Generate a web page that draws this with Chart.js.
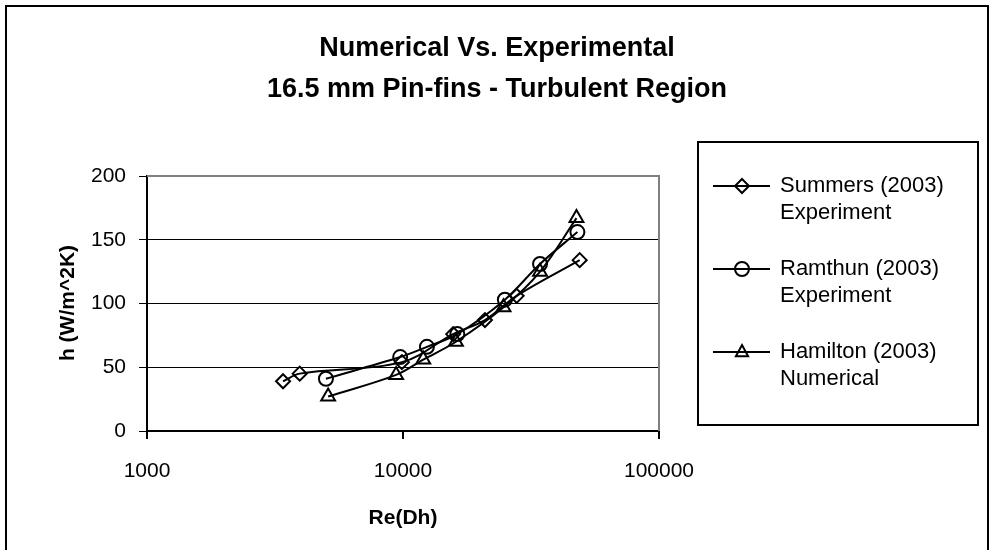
<!DOCTYPE html>
<html>
<head>
<meta charset="utf-8">
<script src="https://cdn.jsdelivr.net/npm/chart.js@4.4.0/dist/chart.umd.min.js"></script>
<style>
  html, body { margin:0; padding:0; background:#fff; overflow:hidden; }
  canvas { display:block; }
</style>
</head>
<body>
<canvas id="chart" width="994" height="550"></canvas>
<script>
// data
const summersRe = [3400, 3950, 9900, 15700, 20900, 27800, 49000];
const summersH  = [39, 45, 54, 76, 87, 106, 134];
const ramthunRe = [5000, 9750, 12400, 16300, 25000, 34300, 48000];
const ramthunH  = [41, 58, 66, 76, 103, 131, 156];
const hamiltonRe = [5100, 9400, 12000, 16100, 24700, 34300, 47600];
const hamiltonH  = [27, 44, 56, 70, 97, 125, 167];
const seriesNames = ['Summers (2003)', 'Ramthun (2003)', 'Hamilton (2003)'];
const seriesNotes = ['Experiment', 'Experiment', 'Numerical'];
const xTicks = [1000, 10000, 100000];
const yTicks = [0, 50, 100, 150, 200];

const FONT = "'Liberation Sans', Arial, sans-serif";
const styles = ['rectRot', 'circle', 'triangle'];
const radii = [7, 7, 8];

function pts(xs, ys){ return xs.map((x,i)=>({x:x, y:ys[i]})); }

function drawMarker(ctx, style, x, y, r){
  ctx.beginPath();
  if (style==='circle') ctx.arc(x, y, r, 0, Math.PI*2);
  else if (style==='rectRot'){ ctx.moveTo(x, y-r); ctx.lineTo(x+r, y); ctx.lineTo(x, y+r); ctx.lineTo(x-r, y); ctx.closePath(); }
  else { const s=r*0.87; ctx.moveTo(x, y-r); ctx.lineTo(x+s, y+r*0.6); ctx.lineTo(x-s, y+r*0.6); ctx.closePath(); }
  ctx.stroke();
}

const decor = {
  id:'decor',
  beforeDraw(chart){
    const ctx = chart.ctx;
    ctx.save();
    ctx.fillStyle='#fff';
    ctx.fillRect(0,0,chart.width,chart.height);
    ctx.restore();
  },
  afterDraw(chart){
    const ctx = chart.ctx, a = chart.chartArea;
    ctx.save();
    // outer frame
    ctx.strokeStyle='#000'; ctx.lineWidth=2;
    ctx.strokeRect(6, 6, 982, 560);
    // plot area top/right border
    ctx.strokeStyle='#808080'; ctx.lineWidth=2;
    ctx.beginPath(); ctx.moveTo(a.left, a.top); ctx.lineTo(a.right, a.top); ctx.lineTo(a.right, a.bottom); ctx.stroke();
    // title
    ctx.fillStyle='#000'; ctx.textAlign='center'; ctx.textBaseline='middle';
    ctx.font = 'bold 27px ' + FONT;
    ctx.fillText('Numerical Vs. Experimental', 497, 49);
    ctx.fillText('16.5 mm Pin-fins - Turbulent Region', 497, 90);
    // axis titles
    ctx.font = 'bold 21px ' + FONT;
    ctx.fillText('Re(Dh)', 403, 518);
    ctx.save();
    ctx.translate(68, 303); ctx.rotate(-Math.PI/2);
    ctx.fillText('h (W/m^2K)', 0, 0);
    ctx.restore();
    // legend
    ctx.strokeStyle='#000'; ctx.lineWidth=2;
    ctx.strokeRect(698, 142, 280, 283);
    const rows = [186, 269, 352];
    ctx.font = '22px ' + FONT; ctx.textAlign='left';
    rows.forEach((y,i)=>{
      ctx.beginPath(); ctx.moveTo(713, y); ctx.lineTo(770, y); ctx.stroke();
      drawMarker(ctx, styles[i], 742, y, 7);
      ctx.fillText(seriesNames[i], 780, y);
      ctx.fillText(seriesNotes[i], 780, y+27);
    });
    ctx.restore();
  }
};

const ds = [[summersRe, summersH], [ramthunRe, ramthunH], [hamiltonRe, hamiltonH]].map((s,i)=>({
  label: seriesNames[i],
  data: pts(s[0], s[1]),
  borderColor:'#000', borderWidth:2, tension:0.35,
  pointStyle: styles[i], pointRadius: radii[i],
  pointBorderColor:'#000', pointBorderWidth:2, pointBackgroundColor:'rgba(0,0,0,0)'
}));

new Chart(document.getElementById('chart').getContext('2d'), {
  type:'line',
  data:{datasets: ds},
  options:{
    responsive:false, animation:false,
    layout:{padding:{left:0, right:335, top:176, bottom:0}},
    plugins:{legend:{display:false}, title:{display:false}, tooltip:{enabled:false}},
    scales:{
      x:{type:'logarithmic', min:1000, max:100000,
        afterBuildTicks: s => { s.ticks = xTicks.map(v=>({value:v})); },
        afterFit: s => { s.height = 119; },
        grid:{drawOnChartArea:false, drawTicks:true, tickLength:8, color:'#000', lineWidth:2},
        border:{color:'#000', width:2},
        ticks:{color:'#000', font:{family:FONT, size:21}, padding:20, maxRotation:0, autoSkip:false, callback: v => String(v)}},
      y:{min:0, max:200,
        afterBuildTicks: s => { s.ticks = yTicks.map(v=>({value:v})); },
        afterFit: s => { s.width = 147; },
        grid:{color: c => (c.tick && c.tick.value===200) ? 'rgba(0,0,0,0)' : '#000', tickColor:'#000', tickLength:8, lineWidth:1},
        border:{color:'#000', width:2},
        ticks:{color:'#000', font:{family:FONT, size:21}, padding:13}}
    }
  },
  plugins:[decor]
});
</script>
</body>
</html>
